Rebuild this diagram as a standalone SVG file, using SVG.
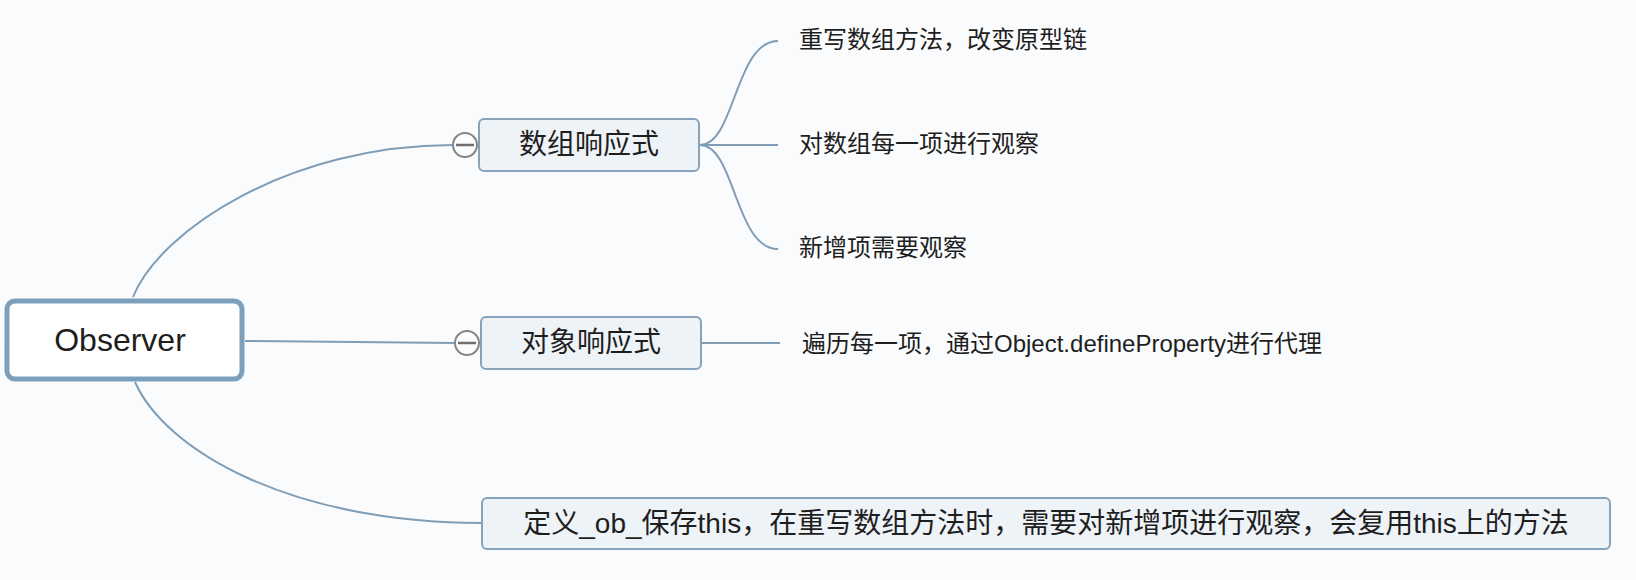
<svg xmlns="http://www.w3.org/2000/svg" width="1636" height="580" viewBox="0 0 1636 580">
<style>
.conn{fill:none;stroke:#7f9db6;stroke-width:2}
.box{fill:#eef3f8;stroke:#86a3bb;stroke-width:2}
.root{fill:#ffffff;stroke:#7ba0bd;stroke-width:5}
.col{fill:#fbfcfd;stroke:#858585;stroke-width:2}
.colbar{stroke:#6f6f6f;stroke-width:2.5}
.t{font-family:"Liberation Sans","Noto Sans CJK SC",sans-serif;fill:#1e1e1e}
.node{font-size:28px;text-anchor:middle}
.leaf{font-size:24px}
</style>
<rect x="0" y="0" width="1636" height="580" fill="#fafbfc"/>
<g id="connectors">
<path class="conn" d="M133,297 C160,230 290,145 453,145"/>
<path class="conn" d="M245,341 L455,343"/>
<path class="conn" d="M135,382 C165,450 290,523 482,523"/>
<path class="conn" d="M700,145 C735,145 735,41 778,41"/>
<path class="conn" d="M700,145 L778,145"/>
<path class="conn" d="M700,145 C735,145 735,249 778,249"/>
<path class="conn" d="M701,343 L780,343"/>
</g>
<g id="observer">
<rect class="root" x="7" y="301" width="235" height="78" rx="8"/>
<text class="t" x="120" y="351" font-size="32" text-anchor="middle">Observer</text>
</g>
<g id="array-reactive">
<rect class="box" x="479" y="119" width="220" height="52" rx="5"/>
<text class="t node" x="589" y="154">数组响应式</text>
<circle class="col" cx="465" cy="145" r="12"/>
<line class="colbar" x1="456" y1="145" x2="474" y2="145"/>
</g>
<g id="object-reactive">
<rect class="box" x="481" y="317" width="220" height="52" rx="5"/>
<text class="t node" x="591" y="352">对象响应式</text>
<circle class="col" cx="467" cy="343" r="12"/>
<line class="colbar" x1="458" y1="343" x2="476" y2="343"/>
</g>
<g id="define-ob">
<rect class="box" x="482" y="498" width="1128" height="51" rx="5"/>
<text class="t node" x="1046" y="533">定义_ob_保存this，在重写数组方法时，需要对新增项进行观察，会复用this上的方法</text>
</g>
<g id="leaf-rewrite">
<text class="t leaf" x="799" y="48">重写数组方法，改变原型链</text>
</g>
<g id="leaf-observe-each">
<text class="t leaf" x="799" y="152">对数组每一项进行观察</text>
</g>
<g id="leaf-new-items">
<text class="t leaf" x="799" y="256">新增项需要观察</text>
</g>
<g id="leaf-define-property">
<text class="t leaf" x="802" y="352">遍历每一项，通过Object.defineProperty进行代理</text>
</g>
</svg>
